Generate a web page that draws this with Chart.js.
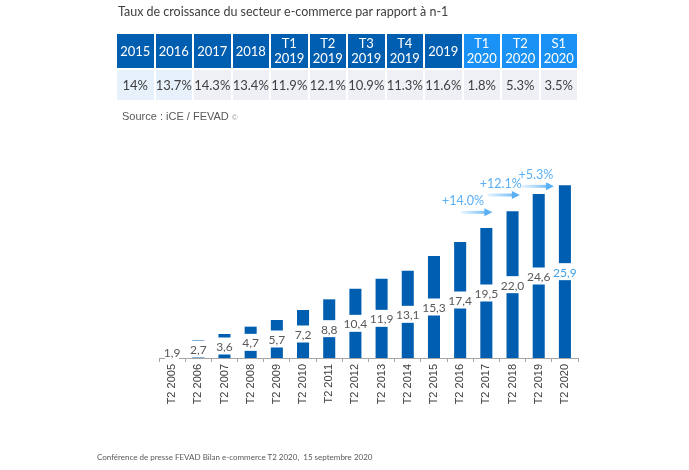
<!DOCTYPE html>
<html>
<head>
<meta charset="utf-8">
<script src="https://cdn.jsdelivr.net/npm/chart.js@4.4.0/dist/chart.umd.min.js"></script>
<style>
  body { margin: 0; background: #fff; width: 689px; height: 470px; position: relative; overflow: hidden; font-family: Lato, "Open Sans", sans-serif; }
  #title { position: absolute; left: 118px; top: 4px; font-size: 12.5px; color: #404040; }
  #tbl { position: absolute; left: 115px; top: 32px; width: 464px; table-layout: fixed; border-collapse: separate; border-spacing: 2px; }
  #tbl td { text-align: center; font-size: 13px; padding: 0; }
  #tbl tr.head td { height: 34px; color: #fff; line-height: 15px; }
  #tbl tr.vals td { height: 30px; color: #404040; background: #eef0f6; }
  #source { position: absolute; left: 122px; top: 110px; font-family: "Liberation Sans", Arial, sans-serif; font-size: 11px; color: #595959; }
  #source span { font-size: 8px; color: #999; }
  #foot { position: absolute; left: 97px; top: 452px; font-size: 8px; color: #595959; }
  #wrap { position: absolute; left: 0; top: 0; width: 689px; height: 470px; }
</style>
</head>
<body>
<div id="wrap"><canvas id="barCanvas" width="689" height="470"></canvas></div>
<div id="title">Taux de croissance du secteur e-commerce par rapport à n-1</div>
<table id="tbl"><tr class="head" id="headRow"></tr><tr class="vals" id="valRow"></tr></table>
<div id="source">Source : iCE / FEVAD <span>©</span></div>
<div id="foot">Conférence de presse FEVAD Bilan e-commerce T2 2020,&nbsp; 15 septembre 2020</div>
<script>
// tableau du haut
const tableHeads = ['2015', '2016', '2017', '2018', 'T1<br>2019', 'T2<br>2019', 'T3<br>2019', 'T4<br>2019', '2019', 'T1<br>2020', 'T2<br>2020', 'S1<br>2020'];
const tableValues = ['14%', '13.7%', '14.3%', '13.4%', '11.9%', '12.1%', '10.9%', '11.3%', '11.6%', '1.8%', '5.3%', '3.5%'];

// graphique
const categories = ['T2 2005', 'T2 2006', 'T2 2007', 'T2 2008', 'T2 2009', 'T2 2010', 'T2 2011', 'T2 2012',
  'T2 2013', 'T2 2014', 'T2 2015', 'T2 2016', 'T2 2017', 'T2 2018', 'T2 2019', 'T2 2020'];
const values = [1.9, 2.7, 3.6, 4.7, 5.7, 7.2, 8.8, 10.4, 11.9, 13.1, 15.3, 17.4, 19.5, 22.0, 24.6, 25.9];
const growthLabels = ['+14.0%', '+12.1%', '+5.3%'];
const growthTargets = ['T2 2018', 'T2 2019', 'T2 2020'];

const headRow = document.getElementById('headRow');
const valRow = document.getElementById('valRow');
tableHeads.forEach((h, i) => {
  const td = document.createElement('td');
  td.innerHTML = h;
  td.style.background = i < 9 ? '#005eb0' : '#1a91f5';
  headRow.appendChild(td);
  const tv = document.createElement('td');
  tv.textContent = tableValues[i];
  if (i < 2) tv.style.background = '#e6f1fc';
  valRow.appendChild(tv);
});

// boite blanche + etiquette au milieu de chaque barre
const barLabels = {
  id: 'barLabels',
  afterDatasetsDraw(chart) {
    const ctx = chart.ctx;
    const meta = chart.getDatasetMeta(0);
    const y0 = chart.scales.y.getPixelForValue(0);
    ctx.save();
    ctx.font = '12px Lato, sans-serif';
    ctx.textAlign = 'center';
    ctx.textBaseline = 'middle';
    meta.data.forEach((bar, i) => {
      const cy = (bar.y + y0) / 2;
      ctx.fillStyle = '#fff';
      ctx.fillRect(bar.x - bar.width / 2 - 1, cy - 8.5, bar.width + 2, 17);
      ctx.fillStyle = i === values.length - 1 ? '#3fa0e6' : '#595959';
      ctx.fillText(values[i].toFixed(1).replace('.', ','), bar.x, cy + 1);
    });
    ctx.restore();
  }
};

// fleches de croissance
const arrowSpans = [[-1.95, -0.77, -14], [-1.95, -0.72, -3], [-1.65, -0.42, -2]];
const growthArrows = {
  id: 'growthArrows',
  afterDatasetsDraw(chart) {
    const ctx = chart.ctx;
    const xs = chart.scales.x, ys = chart.scales.y;
    const step = xs.getPixelForValue(1) - xs.getPixelForValue(0);
    ctx.save();
    growthLabels.forEach((lab, k) => {
      const idx = categories.indexOf(growthTargets[k]);
      const xt = xs.getPixelForValue(idx);
      const y = ys.getPixelForValue(values[idx]) + 1;
      const x1 = xt + arrowSpans[k][0] * step;
      const x2 = xt + arrowSpans[k][1] * step;
      const grad = ctx.createLinearGradient(x1, 0, x2, 0);
      grad.addColorStop(0, 'rgba(100,180,245,0.15)');
      grad.addColorStop(1, 'rgba(90,175,245,1)');
      ctx.strokeStyle = grad;
      ctx.lineWidth = 3;
      ctx.beginPath();
      ctx.moveTo(x1, y);
      ctx.lineTo(x2 - 6, y);
      ctx.stroke();
      ctx.fillStyle = '#5aaff5';
      ctx.beginPath();
      ctx.moveTo(x2, y);
      ctx.lineTo(x2 - 8, y - 4);
      ctx.lineTo(x2 - 8, y + 4);
      ctx.closePath();
      ctx.fill();
      ctx.font = '12.5px Lato, sans-serif';
      ctx.textAlign = 'center';
      ctx.textBaseline = 'alphabetic';
      ctx.fillStyle = '#5aaff5';
      ctx.fillText(lab, (x1 + x2) / 2 + arrowSpans[k][2], y - 7);
    });
    ctx.restore();
  }
};

const barChart = new Chart(document.getElementById('barCanvas'), {
  type: 'bar',
  data: {
    labels: categories,
    datasets: [{
      data: values,
      backgroundColor: '#005eb0',
      barPercentage: 0.46,
      categoryPercentage: 1
    }]
  },
  options: {
    responsive: false,
    animation: false,
    layout: { padding: { left: 159, right: 111, top: 158, bottom: 52 } },
    plugins: { legend: { display: false }, tooltip: { enabled: false } },
    scales: {
      y: { display: false, min: 0, max: 30 },
      x: {
        afterFit(scale) { scale.height = 60; },
        border: { color: '#a6a6a6', width: 1 },
        grid: { offset: true, drawOnChartArea: false, tickLength: 4, color: '#a6a6a6' },
        ticks: {
          minRotation: 90, maxRotation: 90, padding: 2, autoSkip: false,
          color: '#404040',
          font: { family: 'Liberation Sans, Arial, sans-serif', size: 11 }
        }
      }
    }
  },
  plugins: [barLabels, growthArrows]
});
</script>
</body>
</html>
